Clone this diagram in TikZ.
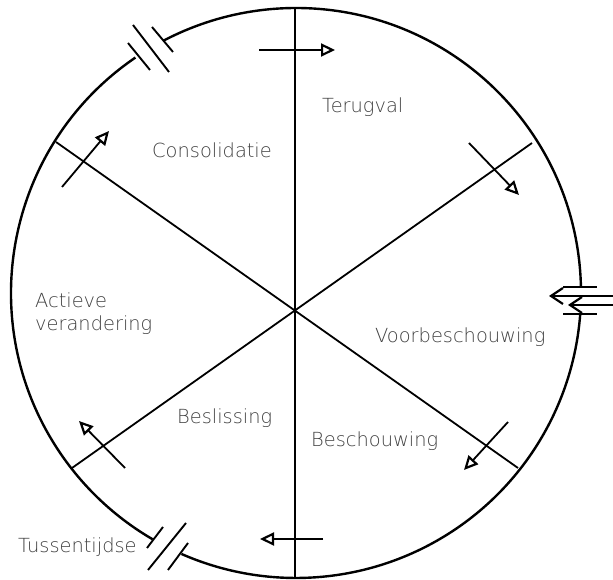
\documentclass[tikz,border=0pt]{standalone}
\usepackage{fontspec}
\newfontfamily\phasefont{DejaVu Sans}[UprightFont=* ExtraLight]
\usetikzlibrary{arrows.meta}

\begin{document}
\begin{tikzpicture}[
        x=1pt, y=1pt,
        ring/.style={line width=2.4pt},
        spoke/.style={line width=1.8pt},
        brk/.style={line width=1.9pt},
        flow/.style={line width=1.8pt, -{Triangle[open, length=14pt, width=13pt, line width=2.2pt]}},
        back/.style={line width=1.7pt, -{Straight Barb[length=12pt, width=16pt, line width=2.2pt]}},
        lbl/.style={font=\phasefont\fontsize{19.4}{23}\selectfont, text=black!75, anchor=base west, inner sep=0pt}
    ]
        \useasboundingbox (0,0) rectangle (613,580);

        % --- Cirkel met onderbrekingen ---
        \coordinate (c) at (296,287);
        \draw[ring] ([shift={(c)}]1.2:285) arc[start angle=1.2, end angle=117.8, radius=285];
        \draw[ring] ([shift={(c)}]124.3:285) arc[start angle=124.3, end angle=239.8, radius=285];
        \draw[ring] ([shift={(c)}]246.3:285) arc[start angle=246.3, end angle=355.8, radius=285];

        % --- Spaken ---
        \coordinate (top) at (295,572);
        \coordinate (bot) at (295,2);
        \coordinate (ur) at (532,437);
        \coordinate (ul) at (56,438);
        \coordinate (ll) at (72,112);
        \coordinate (lr) at (518,112);
        \draw[spoke] (top) -- (bot);
        \draw[spoke] (ul) -- (lr);
        \draw[spoke] (ll) -- (ur);

        % onderbreking linksboven
        \draw[brk] (128,537) -- (150,510);
        \draw[brk] (133,555) -- (169,508);
        \draw[brk] (152,553) -- (173,528);
        % onderbreking linksonder
        \draw[brk] (147,32) -- (163,53);
        \draw[brk] (148,10) -- (186,57);
        \draw[brk] (168,10) -- (188,37);
        % uitstap rechts
        \draw[brk] (563,293) -- (597,293);
        \draw[brk] (563,266) -- (597,266);
        \coordinate (e1) at (613,284);
        \coordinate (e1t) at (549,284);
        \coordinate (e2) at (613,275);
        \coordinate (e2t) at (568,275);
        \draw[back] (e1) -- (e1t);
        \draw[back] (e2) -- (e2t);

        % --- Pijlen met de klok mee ---
        \coordinate (a1) at (259,530);  \coordinate (b1) at (335,530);
        \coordinate (a2) at (469,437);  \coordinate (b2) at (519,385);
        \coordinate (a3) at (508,158);  \coordinate (b3) at (464,110);
        \coordinate (a4) at (323,41);   \coordinate (b4) at (260,41);
        \coordinate (a5) at (125,112);  \coordinate (b5) at (79,159);
        \coordinate (a6) at (62,393);   \coordinate (b6) at (109,449);
        \draw[flow] (a1) -- (b1);
        \draw[flow] (a2) -- (b2);
        \draw[flow] (a3) -- (b3);
        \draw[flow] (a4) -- (b4);
        \draw[flow] (a5) -- (b5);
        \draw[flow] (a6) -- (b6);

        % --- Fasen ---
        \node[lbl] (terug) at (322,467) {Terugval};
        \node[lbl] (conso) at (152,422) {Consolidatie};
        \node[lbl] (actief) at (35,272) {Actieve};
        \node[lbl] (veran) at (35,249) {verandering};
        \node[lbl] (voorb) at (375,237) {Voorbeschouwing};
        \node[lbl] (besl) at (177,156) {Beslissing};
        \node[lbl] (besch) at (311,133) {Beschouwing};
        \node[lbl] (tussen) at (18,27) {Tussentijdse};
    \end{tikzpicture}
\end{document}
